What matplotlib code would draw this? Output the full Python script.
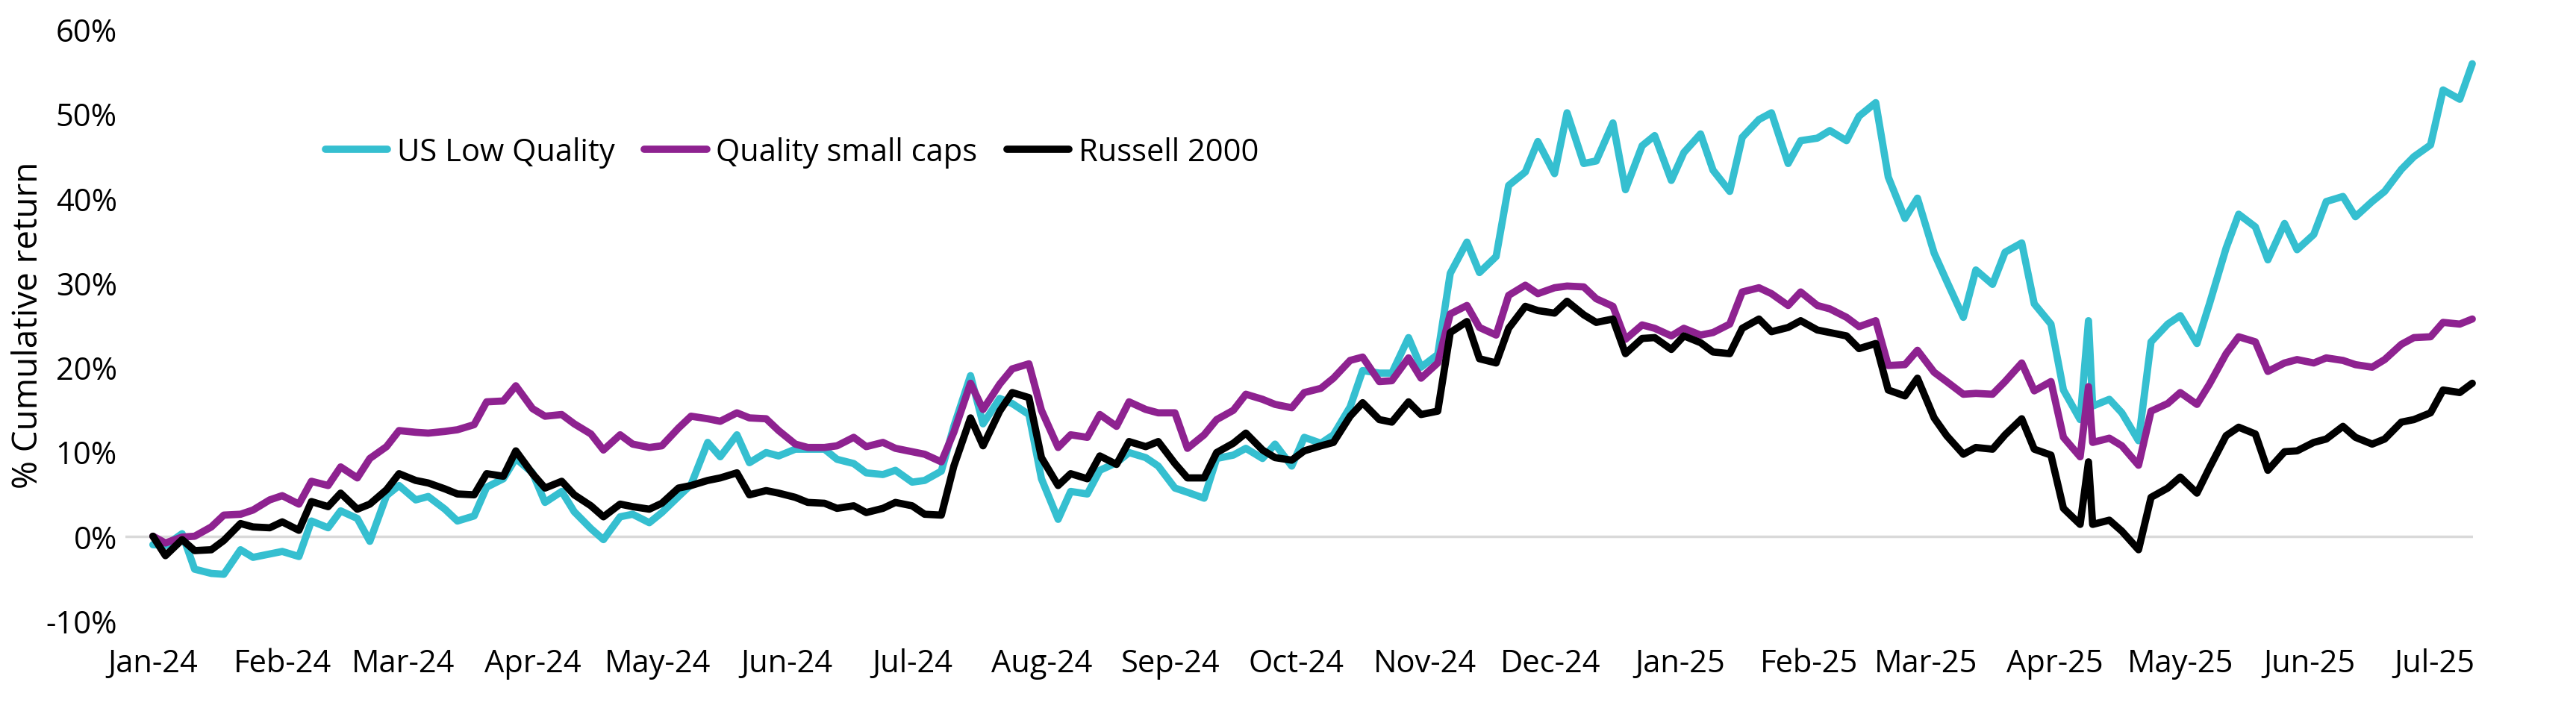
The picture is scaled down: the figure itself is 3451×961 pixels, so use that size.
import matplotlib
matplotlib.use("Agg")
import matplotlib.pyplot as plt
import matplotlib.dates as mdates
import pandas as pd

# twice-weekly readings (Mon / Thu) plus the 9 Apr 2025 rally day
mondays = pd.date_range("2024-01-01", "2025-07-07", freq="W-MON")
thursdays = pd.date_range("2024-01-04", "2025-07-10", freq="W-THU")
extra_days = pd.to_datetime(["2025-04-09"])
dates = mondays.union(thursdays).union(extra_days)

series_names = ["US Low Quality", "Quality small caps", "Russell 2000"]
series_colors = ["#35bfd0", "#8e2290", "#000000"]

us_low_quality = [
    -1.0, -1.1, 0.3, -3.9, -4.4, -4.5, -1.6, -2.5, -2.1, -1.8, -2.4, 1.8, 1.0, 3.0,
    2.1, -0.6, 4.8, 6.0, 4.3, 4.7, 3.2, 1.8, 2.4, 5.8, 6.8, 9.2, 7.5, 4.0,
    5.3, 2.9, 0.9, -0.4, 2.3, 2.6, 1.6, 2.8, 4.7, 6.1, 11.1, 9.4, 12.0, 8.7,
    9.9, 9.5, 10.3, 10.3, 10.3, 9.1, 8.6, 7.5, 7.3, 7.8, 6.4, 6.6, 7.7, 13.0,
    19.0, 13.3, 16.3, 15.7, 14.4, 6.8, 2.0, 5.3, 5.0, 7.8, 8.7, 9.9, 9.3, 8.3,
    5.7, 5.2, 4.5, 9.2, 9.6, 10.4, 9.2, 10.9, 8.3, 11.7, 11.0, 12.0, 15.3,
    19.6, 19.3, 19.3, 23.5, 20.0, 21.5, 31.1, 34.8, 31.2, 33.1, 41.5, 43.1, 46.7, 42.9,
    50.1, 44.1, 44.4, 48.9, 41.0, 46.2, 47.4, 42.1, 45.4, 47.6, 43.3, 40.8, 47.2, 49.3,
    50.1, 44.1, 46.8, 47.1, 48.0, 46.8, 49.7, 51.3, 42.5, 37.6, 40.0, 33.5, 30.2, 25.9,
    31.5, 29.8, 33.6, 34.7, 27.5, 25.1, 17.3, 13.8, 25.5, 15.4, 16.2, 14.6, 11.3, 23.0,
    25.1, 26.1, 22.8, 27.5, 34.1, 38.1, 36.6, 32.7, 37.0, 33.9, 35.7, 39.6, 40.2, 37.8,
    39.6, 40.8, 43.4, 44.9, 46.3, 52.8, 51.7, 55.9,
]

quality_small_caps = [
    0.0, -0.8, -0.1, 0.0, 1.1, 2.5, 2.6, 3.1, 4.3, 4.8, 3.8, 6.5, 6.0, 8.2,
    6.9, 9.2, 10.6, 12.5, 12.3, 12.2, 12.4, 12.6, 13.2, 15.9, 16.0, 17.8, 15.1, 14.2,
    14.4, 13.3, 12.1, 10.2, 12.0, 10.9, 10.5, 10.7, 12.8, 14.2, 13.9, 13.6, 14.6, 14.0,
    13.9, 12.5, 10.9, 10.5, 10.5, 10.7, 11.7, 10.6, 11.1, 10.4, 10.0, 9.7, 8.8, 12.3,
    18.1, 15.0, 18.0, 19.8, 20.4, 14.9, 10.5, 12.0, 11.7, 14.4, 13.0, 15.9, 15.0, 14.6,
    14.6, 10.4, 12.0, 13.8, 14.9, 16.8, 16.2, 15.6, 15.2, 17.0, 17.5, 18.7, 20.8,
    21.2, 18.3, 18.4, 21.1, 18.7, 20.5, 26.3, 27.3, 24.7, 23.8, 28.5, 29.7, 28.7, 29.4,
    29.6, 29.5, 28.1, 27.2, 23.3, 25.0, 24.6, 23.7, 24.6, 23.8, 24.1, 25.1, 28.9, 29.4,
    28.7, 27.3, 28.9, 27.3, 26.9, 25.9, 24.8, 25.5, 20.2, 20.3, 22.0, 19.4, 18.3, 16.8,
    16.9, 16.8, 18.3, 20.5, 17.2, 18.3, 11.7, 9.4, 17.7, 11.1, 11.6, 10.7, 8.4, 14.8,
    15.7, 17.0, 15.6, 18.0, 21.6, 23.6, 23.0, 19.5, 20.5, 20.9, 20.5, 21.1, 20.8, 20.3,
    20.0, 20.9, 22.7, 23.5, 23.6, 25.3, 25.1, 25.7,
]

russell_2000 = [
    0.0, -2.3, -0.4, -1.7, -1.6, -0.5, 1.5, 1.1, 1.0, 1.7, 0.7, 4.1, 3.5, 5.1,
    3.2, 3.8, 5.5, 7.4, 6.6, 6.3, 5.6, 5.0, 4.9, 7.4, 7.1, 10.1, 7.4, 5.7,
    6.5, 4.9, 3.6, 2.3, 3.8, 3.5, 3.2, 3.9, 5.7, 6.0, 6.6, 6.9, 7.5, 4.9,
    5.4, 5.1, 4.6, 4.0, 3.9, 3.3, 3.6, 2.8, 3.3, 4.0, 3.6, 2.6, 2.5, 8.3,
    14.0, 10.7, 14.8, 17.0, 16.4, 9.3, 6.0, 7.4, 6.8, 9.5, 8.5, 11.2, 10.6, 11.2,
    8.6, 6.9, 6.9, 9.9, 11.0, 12.2, 10.2, 9.3, 9.0, 10.1, 10.7, 11.1, 14.2,
    15.8, 13.8, 13.5, 15.9, 14.4, 14.8, 24.1, 25.4, 21.0, 20.5, 24.6, 27.2, 26.7, 26.4,
    27.8, 26.2, 25.3, 25.7, 21.6, 23.4, 23.5, 22.1, 23.7, 22.9, 21.8, 21.6, 24.6, 25.7,
    24.2, 24.7, 25.5, 24.4, 24.1, 23.7, 22.2, 22.8, 17.3, 16.6, 18.7, 14.0, 11.9, 9.7,
    10.5, 10.3, 12.0, 13.9, 10.3, 9.6, 3.3, 1.4, 8.8, 1.4, 1.9, 0.6, -1.6, 4.6,
    5.7, 7.0, 5.1, 8.1, 11.9, 12.9, 12.1, 7.8, 10.0, 10.1, 11.1, 11.5, 13.0, 11.7,
    10.9, 11.5, 13.5, 13.8, 14.6, 17.3, 17.0, 18.1,
]

y_ticks = [-10, 0, 10, 20, 30, 40, 50, 60]

plt.rcParams["font.family"] = ["Open Sans", "DejaVu Sans"]

fig = plt.figure(figsize=(34.51, 9.62), dpi=100)
ax = fig.add_axes([0.0487, 0.1341, 0.9113, 0.8243])

# zero line (Excel's category axis)
ax.axhline(0, color="#d9d9d9", lw=2.5, zorder=1)

for name, color, vals in zip(series_names, series_colors,
                             [us_low_quality, quality_small_caps, russell_2000]):
    ax.plot(dates, vals, color=color, lw=7, label=name,
            solid_joinstyle="round", solid_capstyle="round", clip_on=False, zorder=3)

ax.set_xlim(pd.Timestamp("2023-12-25 10:00"), pd.Timestamp("2025-07-10 04:00"))
ax.set_ylim(-10, 60)
ax.set_yticks(y_ticks)
ax.set_yticklabels([f"{v}%" for v in y_ticks])

ax.xaxis.set_major_locator(mdates.MonthLocator())
ax.xaxis.set_major_formatter(mdates.DateFormatter("%b-%y"))

for s in ax.spines.values():
    s.set_visible(False)
ax.tick_params(axis="both", length=0, labelsize=30, colors="black")
ax.tick_params(axis="y", pad=8)
ax.tick_params(axis="x", pad=26)

fig.text(38 / 3451, 0.547, "% Cumulative return", rotation=90,
         ha="center", va="center", fontsize=33)

ax.legend(loc="center left", bbox_to_anchor=(436 / 3451, 1 - 205 / 962),
          bbox_transform=fig.transFigure, ncol=3, frameon=False,
          fontsize=30, handlelength=2.0, handletextpad=0.3,
          columnspacing=0.95, borderpad=0, borderaxespad=0)

fig.savefig("out.png", dpi=100)
